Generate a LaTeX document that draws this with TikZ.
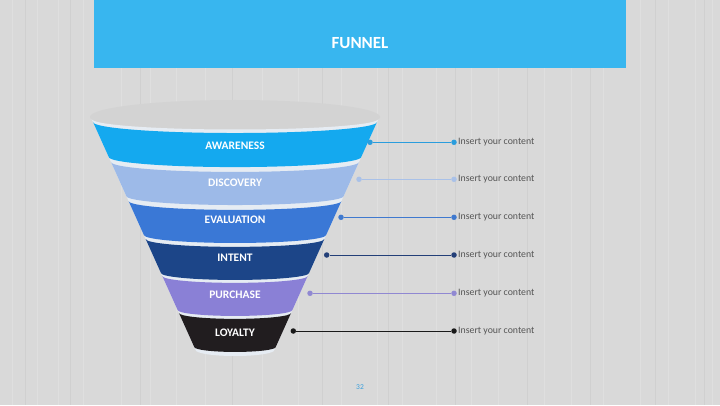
\documentclass[tikz,border=0pt]{standalone}
\usepackage{fontspec}
\setmainfont{Carlito}
\definecolor{bgcol}{HTML}{D9D9D9}
\definecolor{titleblue}{HTML}{38B6EF}
\definecolor{rimgray}{HTML}{D3D3D3}
\definecolor{gapcol}{HTML}{E6ECF3}
\definecolor{cAware}{HTML}{14A9EF}
\definecolor{cDisc}{HTML}{9DBAE8}
\definecolor{cEval}{HTML}{3A78D6}
\definecolor{cIntent}{HTML}{1C4588}
\definecolor{cPurch}{HTML}{8A80D6}
\definecolor{cLoyal}{HTML}{211D1F}
\definecolor{lAware}{HTML}{2A9DDD}
\definecolor{lDisc}{HTML}{A9C1E8}
\definecolor{lEval}{HTML}{3F79CF}
\definecolor{lIntent}{HTML}{233F78}
\definecolor{lPurch}{HTML}{9088D2}
\definecolor{lLoyal}{HTML}{1A1A1A}
\definecolor{txtgray}{HTML}{555555}
\definecolor{pagenum}{HTML}{3A9FDC}
\tikzset{
  bandlabel/.style={text=white, font=\fontsize{11.5}{12}\selectfont\bfseries, inner sep=0pt},
  dotnode/.style={circle, fill=#1, inner sep=0pt, minimum size=5.5pt},
  link/.style={draw=#1, line width=0.9pt},
  content/.style={anchor=west, text=txtgray, font=\fontsize{9.8}{11}\selectfont, inner sep=0pt},
}
\newcommand{\funnelband}[6]{%
  \pgfmathsetmacro\fbHt{142-0.45*(#1-122)}%
  \pgfmathsetmacro\fbHb{142-0.45*(#2-122)}%
  \pgfmathsetmacro\fbRt{0.06*\fbHt+2.5}%
  \pgfmathsetmacro\fbRb{0.06*\fbHb+2.5}%
  \fill[#3] ({235-\fbHt},{405-#1}) -- ({235-\fbHb},{405-#2})
    arc[start angle=180,end angle=360,x radius=\fbHb pt,y radius=\fbRb pt]
    -- ({235+\fbHt},{405-#1})
    arc[start angle=0,end angle=-180,x radius=\fbHt pt,y radius=\fbRt pt] -- cycle;
  \node[bandlabel] (#5) at (235,{405-#4}) {#6};
}
\begin{document}
\begin{tikzpicture}[x=1pt,y=1pt]
\useasboundingbox (0,0) rectangle (720,405);
% background
\fill[bgcol] (0,0) rectangle (720,405);
\foreach \xx in {12,37,58,83,121,150,176,205,262,298,341,377,402,436,471,498,544,571,603,640,668,695,712}
  \draw[white, opacity=0.18, line width=0.7pt] (\xx,0) -- (\xx,405);
\foreach \xx in {25,70,140,232,322,388,455,527,590,655,704}
  \draw[black, opacity=0.04, line width=0.6pt] (\xx,0) -- (\xx,405);
% title bar
\fill[titleblue] (94,405) rectangle (626,336.5);
\node[text=white, font=\fontsize{17}{18}\selectfont\bfseries, inner sep=0pt] (title) at (360,362) {FUNNEL};
% funnel rim
\fill[rimgray] (235,288) ellipse[x radius=145pt, y radius=17pt];
\fill[gapcol] (91.65,286) -- (195.6,55)
  arc[start angle=180,end angle=360,x radius=39.4pt,y radius=6pt]
  -- (378.35,286)
  arc[start angle=0,end angle=-180,x radius=143.35pt,y radius=10.5pt] -- cycle;
% bands
\funnelband{122}{157}{cAware}{146}{bA}{AWARENESS}
\funnelband{162}{196}{cDisc}{182.5}{bD}{DISCOVERY}
\funnelband{201}{235}{cEval}{220}{bE}{EVALUATION}
\funnelband{239}{273}{cIntent}{257.5}{bI}{INTENT}
\funnelband{276}{310}{cPurch}{294.5}{bP}{PURCHASE}
\funnelband{313}{347}{cLoyal}{332.5}{bL}{LOYALTY}
% connectors
\node[dotnode=lAware] (lA) at (370,{405-142.3}) {};
\node[dotnode=lAware] (rA) at (454,{405-142.3}) {};
\node[dotnode=lDisc] (lD) at (359,{405-179.3}) {};
\node[dotnode=lDisc] (rD) at (454,{405-179.3}) {};
\node[dotnode=lEval] (lE) at (341,{405-217.3}) {};
\node[dotnode=lEval] (rE) at (454,{405-217.3}) {};
\node[dotnode=lIntent] (lI) at (326.7,{405-255}) {};
\node[dotnode=lIntent] (rI) at (454,{405-255}) {};
\node[dotnode=lPurch] (lP) at (310,{405-293.3}) {};
\node[dotnode=lPurch] (rP) at (454,{405-293.3}) {};
\node[dotnode=lLoyal] (lL) at (293.3,{405-331}) {};
\node[dotnode=lLoyal] (rL) at (454,{405-331}) {};
\draw[link=lAware] (lA) -- (rA);
\draw[link=lDisc] (lD) -- (rD);
\draw[link=lEval] (lE) -- (rE);
\draw[link=lIntent] (lI) -- (rI);
\draw[link=lPurch] (lP) -- (rP);
\draw[link=lLoyal] (lL) -- (rL);
\node[content] (tA) at (458,{405-142.3}) {Insert your content};
\node[content] (tD) at (458,{405-179.3}) {Insert your content};
\node[content] (tE) at (458,{405-217.3}) {Insert your content};
\node[content] (tI) at (458,{405-255}) {Insert your content};
\node[content] (tP) at (458,{405-293.3}) {Insert your content};
\node[content] (tL) at (458,{405-331}) {Insert your content};
% page number
\node[text=pagenum, font=\fontsize{7.5}{8}\selectfont, inner sep=0pt] (page) at (360,18) {32};
\end{tikzpicture}
\end{document}
